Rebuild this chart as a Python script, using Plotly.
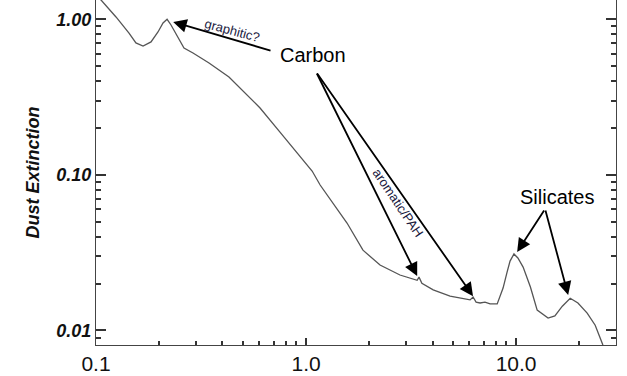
import math
import plotly.graph_objects as go

# Wavelength (micron) and dust extinction
wavelength = [0.100, 0.1057, 0.1245, 0.1436, 0.1549, 0.1675, 0.1828, 0.1973, 0.2085, 0.218,
              0.2276, 0.2455, 0.2624, 0.2896, 0.3452, 0.4295, 0.485, 0.604, 0.7515, 0.9056,
              1.023, 1.045, 1.069, 1.167, 1.30, 1.567, 1.866, 2.25, 2.80, 3.20, 3.38,
              3.45, 3.56, 4.03, 4.85, 6.04, 6.24, 6.45, 6.74, 7.11, 7.52,
              8.13, 8.67, 9.06, 9.36, 9.77, 10.2, 10.8, 11.7, 12.6, 14.2,
              15.3, 16.6, 18.1, 19.7, 21.8, 23.8, 25.9, 27.4]
extinction = [1.40, 1.33, 1.035, 0.816, 0.705, 0.673, 0.715, 0.829, 0.947, 1.0,
              0.919, 0.758, 0.654, 0.607, 0.524, 0.426, 0.362, 0.269, 0.188, 0.138,
              0.1122, 0.1097, 0.1058, 0.086, 0.070, 0.049, 0.0328, 0.0263, 0.0227, 0.0214, 0.0210,
              0.0220, 0.0201, 0.0182, 0.0166, 0.0157, 0.0164, 0.0152, 0.0150, 0.0152, 0.0148,
              0.0148, 0.0187, 0.0237, 0.0279, 0.0310, 0.0292, 0.0255, 0.0190, 0.0135, 0.0120,
              0.0124, 0.0143, 0.0161, 0.0150, 0.0129, 0.0108, 0.00805, 0.00695]

x_tick_format = ".1f"   # 0.1, 1.0, 10.0
y_tick_format = ".2f"   # 0.01, 0.10, 1.00

L = math.log10
XR = [L(0.1), L(29.9)]
YR = [-2.094, 0.124]

fig = go.Figure()
fig.add_trace(go.Scatter(x=wavelength, y=extinction, mode="lines",
                         line=dict(color="#555555", width=1.3), showlegend=False))

axis_col = "#444444"
fig.update_layout(
    width=627, height=376,
    margin=dict(l=96, r=11, t=0, b=31),
    plot_bgcolor="white",
    font=dict(family="Liberation Sans, Arial, sans-serif", color="#111111"),
    xaxis=dict(type="log", range=XR, showline=True, linecolor=axis_col,
               dtick=1, tickformat=x_tick_format,
               ticks="inside", ticklen=7, tickcolor="#333333", tickwidth=1.5,
               tickfont=dict(size=21, color="#111111"),
               minor=dict(ticks="inside", ticklen=4, tickcolor="#333333", tickwidth=1.5,
                          dtick="D1")),
    yaxis=dict(type="log", range=YR, showline=True, linecolor=axis_col, mirror="allticks",
               dtick=1, tickformat=y_tick_format,
               ticks="inside", ticklen=10, tickcolor="#333333", tickwidth=1.5,
               tickfont=dict(size=18, color="#111111", weight="bold", style="italic"),
               title=dict(text="Dust Extinction", standoff=12,
                          font=dict(size=18, color="#111111", weight="bold", style="italic")),
               minor=dict(ticks="inside", ticklen=5, tickcolor="#333333", tickwidth=1.5)),
)

arrow_style = dict(showarrow=True, arrowhead=2, arrowsize=1.5, arrowwidth=1.8,
                   arrowcolor="black", axref="x", ayref="y", text="", standoff=0)

# graphitic arrow
fig.add_annotation(x=L(0.233), y=-0.017, ax=-0.162, ay=-0.204, **arrow_style)
# Carbon arrows
fig.add_annotation(x=0.529, y=-1.651, ax=0.048, ay=-0.339, **arrow_style)
fig.add_annotation(x=0.795, y=-1.780, ax=0.048, ay=-0.339, **arrow_style)
# Silicates arrows
fig.add_annotation(x=1.005, y=-1.496, ax=1.138, ay=-1.220, **arrow_style)
fig.add_annotation(x=1.248, y=-1.773, ax=1.138, ay=-1.220, **arrow_style)

fig.add_annotation(x=0.035, y=-0.230, text="Carbon", showarrow=False,
                   font=dict(size=20, color="black"))
fig.add_annotation(x=1.195, y=-1.143, text="Silicates", showarrow=False,
                   font=dict(size=20, color="black"))
fig.add_annotation(x=-0.352, y=-0.072, text="graphitic?", showarrow=False, textangle=15,
                   font=dict(size=13, color="#1a1a40"))
fig.add_annotation(x=0.438, y=-1.175, text="aromatic/PAH", showarrow=False, textangle=56,
                   font=dict(size=13, color="#1a1a40"))

fig.write_html("out.html", config={"displayModeBar": False},
               post_script="document.body.style.margin='0';")
